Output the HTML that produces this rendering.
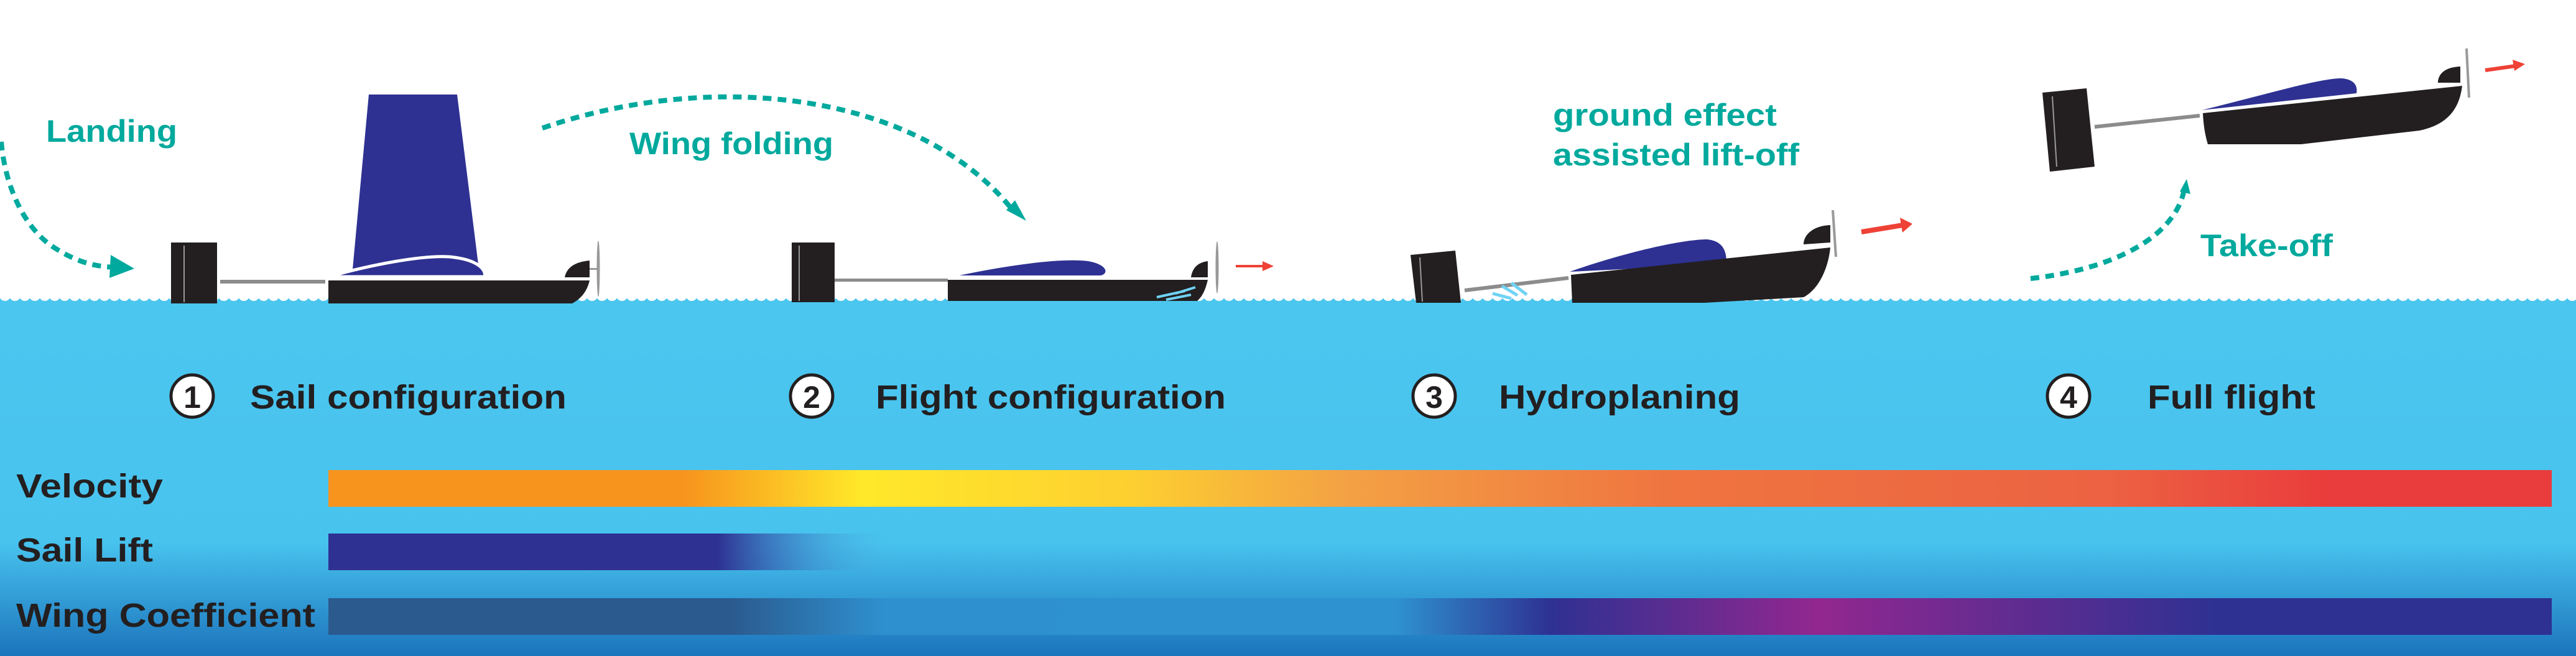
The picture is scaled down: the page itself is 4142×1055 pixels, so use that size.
<!DOCTYPE html>
<html><head><meta charset="utf-8"><style>html,body{margin:0;padding:0;background:#fff}svg{display:block}</style></head><body>
<svg width="4142" height="1055" viewBox="0 0 4142 1055" xmlns="http://www.w3.org/2000/svg" font-family="Liberation Sans, sans-serif">
<defs>
<linearGradient id="water" x1="0" y1="0" x2="0" y2="1">
<stop offset="0" stop-color="#4bc6ef"/><stop offset="0.68" stop-color="#48c3ee"/><stop offset="1" stop-color="#1c74bc"/></linearGradient>
<linearGradient id="vel" x1="0" x2="1">
<stop offset="0" stop-color="#f7941d"/><stop offset="0.16" stop-color="#f7941d"/><stop offset="0.24" stop-color="#ffe82a"/><stop offset="0.36" stop-color="#fdd030"/><stop offset="0.46" stop-color="#f3a044"/><stop offset="0.6" stop-color="#ef7540"/><stop offset="0.8" stop-color="#ec6242"/><stop offset="0.9" stop-color="#e93c3c"/><stop offset="1" stop-color="#e93c3c"/></linearGradient>
<linearGradient id="sail" x1="0" x2="1">
<stop offset="0" stop-color="#2e3192"/><stop offset="0.68" stop-color="#2e3192"/><stop offset="1" stop-color="#4bc6ef" stop-opacity="0"/></linearGradient>
<linearGradient id="wing" x1="0" x2="1">
<stop offset="0" stop-color="#2b5a8e"/><stop offset="0.18" stop-color="#2b5a8e"/><stop offset="0.25" stop-color="#2e90cf"/><stop offset="0.48" stop-color="#2e92d0"/><stop offset="0.55" stop-color="#2e3192"/><stop offset="0.67" stop-color="#92278f"/><stop offset="0.85" stop-color="#2e3192"/><stop offset="1" stop-color="#2e3192"/></linearGradient>
<pattern id="wave" x="0" y="472" width="16" height="20" patternUnits="userSpaceOnUse"><rect width="16" height="20" fill="#4bc6ef"/><circle cx="8" cy="3" r="9" fill="#fff"/></pattern>
</defs>
<rect x="0" y="0" width="4142" height="1055" fill="#fff"/>
<rect x="0" y="480" width="4142" height="575" fill="url(#water)"/>
<rect x="0" y="472" width="4142" height="12" fill="url(#wave)"/>

<!-- Boat 1 -->
<rect x="275" y="390" width="74" height="98" fill="#231f20"/>
<line x1="296" y1="395" x2="296" y2="486" stroke="#999" stroke-width="2"/>
<rect x="354" y="450" width="169" height="6" fill="#8c8c8c"/>
<polygon points="593,152 735,152 770,433 567,433" fill="#2e3192"/>
<path d="M528,445 C600,425 680,410 723,413 C775,418 782,438 779,445 Z" fill="#2e3192" stroke="#fff" stroke-width="5"/>
<path d="M528,451 L948,451 C944,468 935,480 920,488 L528,488 Z" fill="#231f20"/>
<path d="M908,446 C911,430 925,421 948,419 L948,446 Z" fill="#231f20"/>
<ellipse cx="962" cy="432" rx="2.5" ry="45" fill="#999"/>
<rect x="948" y="431" width="14" height="3" fill="#999"/>

<!-- Boat 2 -->
<rect x="1273" y="390" width="69" height="96" fill="#231f20"/>
<line x1="1285" y1="395" x2="1285" y2="484" stroke="#999" stroke-width="2"/>
<rect x="1342" y="448" width="182" height="5" fill="#8c8c8c"/>
<path d="M1524,445 C1600,428 1700,412 1750,418 C1785,424 1785,442 1770,445 Z" fill="#2e3192" stroke="#fff" stroke-width="4"/>
<path d="M1524,450 L1942,450 C1938,468 1932,478 1925,484 L1524,484 Z" fill="#231f20"/>
<path d="M1915,446 C1917,432 1925,422 1942,420 L1942,446 Z" fill="#231f20"/>
<ellipse cx="1957" cy="430" rx="2.5" ry="42" fill="#999"/>
<path d="M1860,478 L1905,468 M1875,482 L1915,474 M1890,472 L1922,462" stroke="#6fd3f5" stroke-width="4"/>
<line x1="1987" y1="428" x2="2035" y2="428" stroke="#ef4136" stroke-width="4"/>
<polygon points="2030,420 2048,428 2030,436" fill="#ef4136"/>

<!-- Boat 3 -->
<polygon points="2268,410 2340,403 2349,487 2277,487" fill="#231f20"/>
<line x1="2283" y1="414" x2="2287" y2="485" stroke="#999" stroke-width="2"/>
<line x1="2355" y1="467" x2="2522" y2="447" stroke="#8c8c8c" stroke-width="6"/>
<path d="M2524,437 C2600,410 2700,385 2745,385 C2775,388 2776,410 2776,425 Z" fill="#2e3192"/>
<path d="M2526,442 L2943,398 C2940,430 2925,465 2900,478 L2740,487 L2528,487 Z" fill="#231f20"/>
<path d="M2900,393 C2900,378 2915,363 2943,362 L2943,390 Z" fill="#231f20"/>
<line x1="2947" y1="338" x2="2952" y2="413" stroke="#999" stroke-width="4"/>
<path d="M2400,472 L2430,480 M2415,460 L2440,475 M2430,455 L2455,474" stroke="#6fd3f5" stroke-width="5"/>
<line x1="2993" y1="373" x2="3060" y2="362" stroke="#ef4136" stroke-width="8"/>
<polygon points="3055,350 3075,360 3059,374" fill="#ef4136"/>

<!-- Boat 4 -->
<polygon points="3284,149 3355,142 3368,268 3296,276" fill="#231f20"/>
<line x1="3300" y1="155" x2="3307" y2="268" stroke="#999" stroke-width="2"/>
<line x1="3368" y1="204" x2="3537" y2="186" stroke="#8c8c8c" stroke-width="6"/>
<path d="M3541,177 C3650,150 3730,126 3765,126 C3792,128 3790,145 3789,150 Z" fill="#2e3192"/>
<path d="M3542,182 L3959,138 C3955,170 3940,200 3890,210 L3700,232 L3550,232 C3545,215 3543,200 3542,182 Z" fill="#231f20"/>
<path d="M3920,133 C3920,120 3930,108 3956,107 L3956,133 Z" fill="#231f20"/>
<line x1="3966" y1="78" x2="3970" y2="157" stroke="#999" stroke-width="4"/>
<line x1="3996" y1="113" x2="4045" y2="106" stroke="#ef4136" stroke-width="6"/>
<polygon points="4040,96 4060,103 4043,114" fill="#ef4136"/>

<!-- Dotted arrows -->
<g fill="none" stroke="#00a99d" stroke-width="8" stroke-dasharray="14 10">
<path d="M2,228 C8,300 40,370 90,400 C130,425 160,430 195,430"/>
<path d="M872,206 C1150,110 1480,150 1630,340"/>
<path d="M3265,448 C3420,430 3500,370 3512,305"/>
</g>
<polygon points="178,410 216,432 176,447" fill="#00a99d"/>
<polygon points="1618,338 1650,355 1632,322" fill="#00a99d"/>
<polygon points="3505,308 3516,288 3522,312" fill="#00a99d"/>

<!-- Labels -->
<g fill="#00a99d" font-weight="bold" font-size="50">
<text x="74" y="228" textLength="211" lengthAdjust="spacingAndGlyphs">Landing</text>
<text x="1012" y="248" textLength="328" lengthAdjust="spacingAndGlyphs">Wing folding</text>
<text x="2497" y="202" textLength="360" lengthAdjust="spacingAndGlyphs">ground effect</text>
<text x="2497" y="266" textLength="396" lengthAdjust="spacingAndGlyphs">assisted lift-off</text>
<text x="3538" y="412" textLength="213" lengthAdjust="spacingAndGlyphs">Take-off</text>
</g>

<g fill="#231f20" font-weight="bold" font-size="54">
<circle cx="309" cy="637" r="34" fill="#fff" stroke="#231f20" stroke-width="5"/>
<text x="309" y="656" text-anchor="middle" font-size="50">1</text>
<text x="402" y="657" textLength="509" lengthAdjust="spacingAndGlyphs">Sail configuration</text>
<circle cx="1305" cy="637" r="34" fill="#fff" stroke="#231f20" stroke-width="5"/>
<text x="1305" y="656" text-anchor="middle" font-size="50">2</text>
<text x="1408" y="657" textLength="563" lengthAdjust="spacingAndGlyphs">Flight configuration</text>
<circle cx="2306" cy="637" r="34" fill="#fff" stroke="#231f20" stroke-width="5"/>
<text x="2306" y="656" text-anchor="middle" font-size="50">3</text>
<text x="2410" y="657" textLength="388" lengthAdjust="spacingAndGlyphs">Hydroplaning</text>
<circle cx="3326" cy="637" r="34" fill="#fff" stroke="#231f20" stroke-width="5"/>
<text x="3326" y="656" text-anchor="middle" font-size="50">4</text>
<text x="3453" y="657" textLength="270" lengthAdjust="spacingAndGlyphs">Full flight</text>
<text x="26" y="800" textLength="236" lengthAdjust="spacingAndGlyphs">Velocity</text>
<text x="26" y="903" textLength="220" lengthAdjust="spacingAndGlyphs">Sail Lift</text>
<text x="26" y="1008" textLength="481" lengthAdjust="spacingAndGlyphs">Wing Coefficient</text>
</g>

<rect x="528" y="756" width="3575" height="59" fill="url(#vel)"/>
<rect x="528" y="858" width="920" height="59" fill="url(#sail)"/>
<rect x="528" y="962" width="3575" height="59" fill="url(#wing)"/>
</svg>
</body></html>
